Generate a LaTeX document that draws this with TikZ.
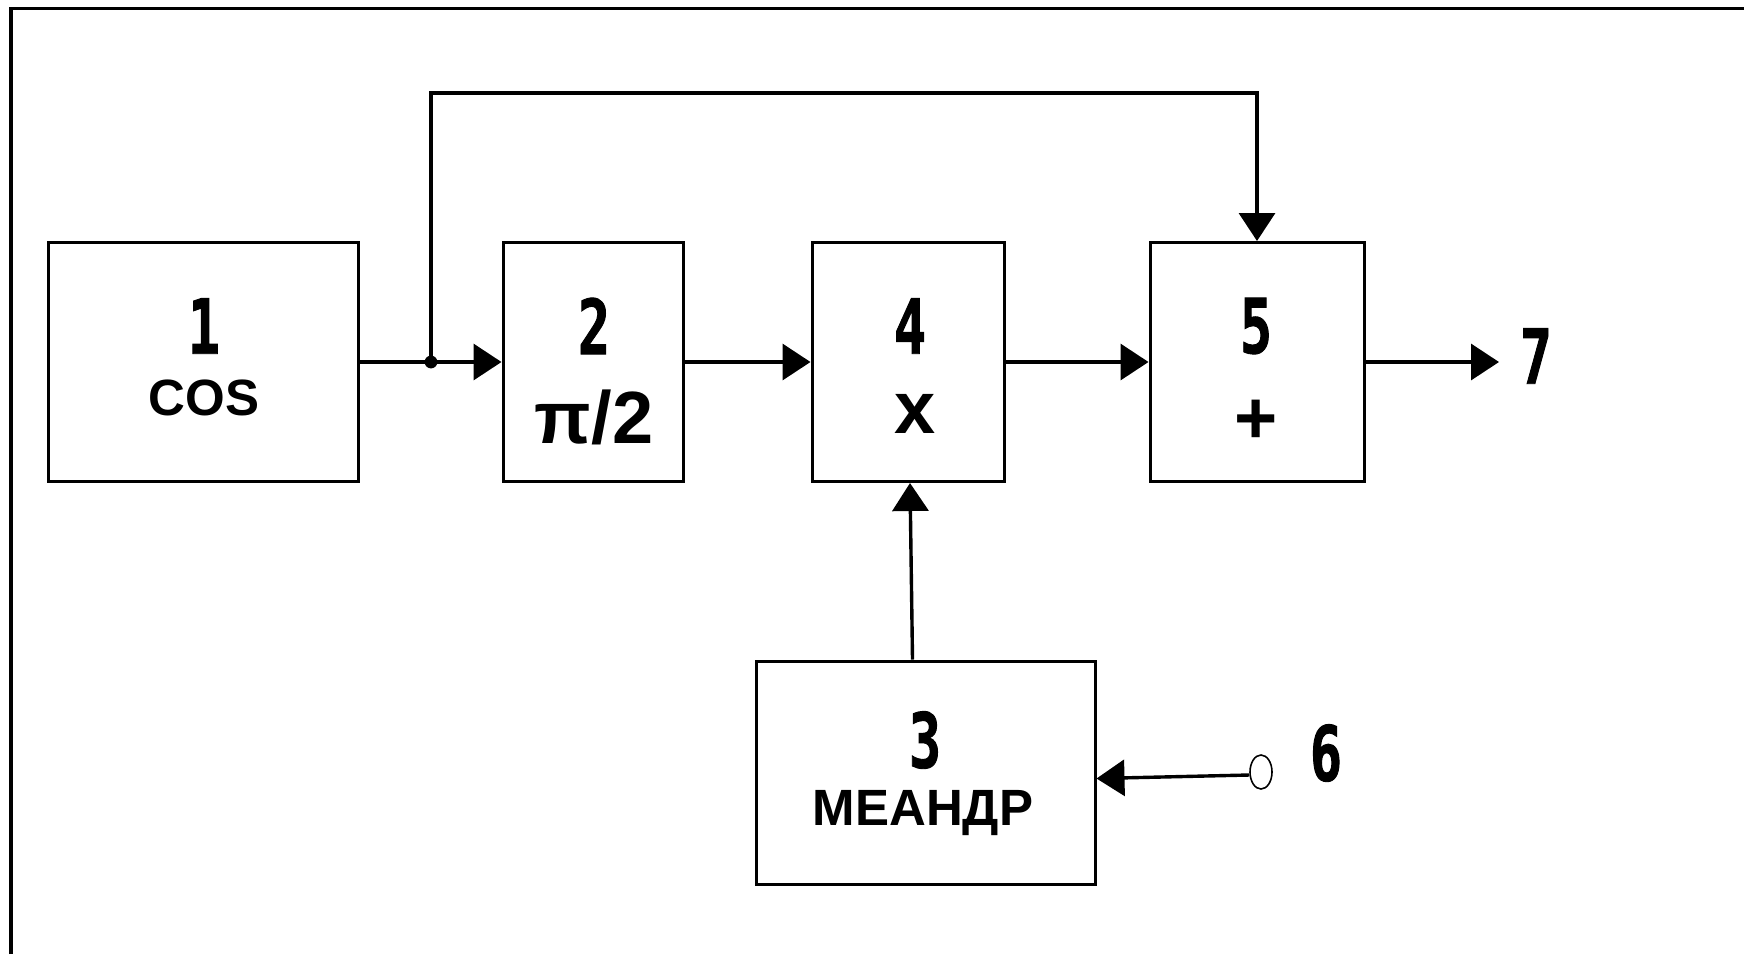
\documentclass[tikz,border=0pt]{standalone}
\usepackage{fontspec}
\setmainfont{Liberation Sans}
\newfontfamily\numfont{DejaVu Sans Mono}[FakeStretch=0.7, FakeBold=1.2]
\usetikzlibrary{arrows.meta, positioning, shapes.geometric}

\tikzset{
  block/.style={draw, line width=1.5pt, minimum height=119.5pt, inner sep=0pt},
  num/.style={font=\numfont\bfseries\fontsize{38}{38}\selectfont, inner sep=0pt},
  lbl/.style={font=\bfseries\fontsize{25.5}{25.5}\selectfont, inner sep=0pt},
  big/.style={font=\bfseries\fontsize{37}{37}\selectfont, inner sep=0pt},
  sig/.style={line width=1.7pt, -{Triangle[length=14pt, width=18pt]}},
  port/.style={draw, ellipse, line width=0.8pt, minimum width=11pt, minimum height=17pt, inner sep=0pt},
}

\begin{document}
\begin{tikzpicture}[x=0.5pt, y=-0.5pt]
    \useasboundingbox (0,0) rectangle (1744,954);
    \draw[line width=1.6pt] (11,954) -- (11,8.5) -- (1744,8.5);

    % blocks
    \node[block, minimum width=155pt] (b1) at (203,362) {};
    \node[block, minimum width=90pt] (b2) at (593,362) {};
    \node[block, minimum width=96pt] (b4) at (908,362) {};
    \node[block, minimum width=107pt] (b5) at (1257,362) {};
    \node[block, minimum width=169.5pt, minimum height=111.5pt] (b3) at (925.5,772.5) {};

    % numbers and labels
    \node[num] (n1) at (204,326) {1};
    \node[lbl] (t1) at (204,398) {COS};
    \node[num] (n2) at (594,326) {2};
    \node[big] (t2) at (594,417) {π/2};
    \node[num] (n4) at (910,326) {4};
    \node[big] (t4) at (915,414) {x};
    \node[num] (n5) at (1256,326) {5};
    \node[big] (t5) at (1256,422) {+};
    \node[num] (n3) at (925,740) {3};
    \node[lbl] (t3) at (923,813) {МЕАНДР};
    \node[num] (n7) at (1536,356) {7};
    \node[num] (n6) at (1326,753) {6};

    % connections
    \coordinate (j) at (431,362);
    \coordinate (top) at (431,93);
    \coordinate (out) at (1499,362);
    \node[port] (in6) at (1261,772) {};

    \draw[line width=1.7pt] (b1) -- (j);
    \draw[sig] (j) -- (b2);
    \fill (j) circle (3.2pt);
    \draw[sig] (j) -- (top) -| (b5.north);
    \draw[sig] (b2) -- (b4);
    \draw[sig] (b4) -- (b5);
    \draw[sig] (b5) -- (out);
    \draw[sig] ([xshift=-6.5pt]b3.north) -- ([xshift=1pt]b4.south);
    \draw[sig] ([yshift=-1.5pt]in6.west) -- ([yshift=-3pt]b3.east);
\end{tikzpicture}
\end{document}
